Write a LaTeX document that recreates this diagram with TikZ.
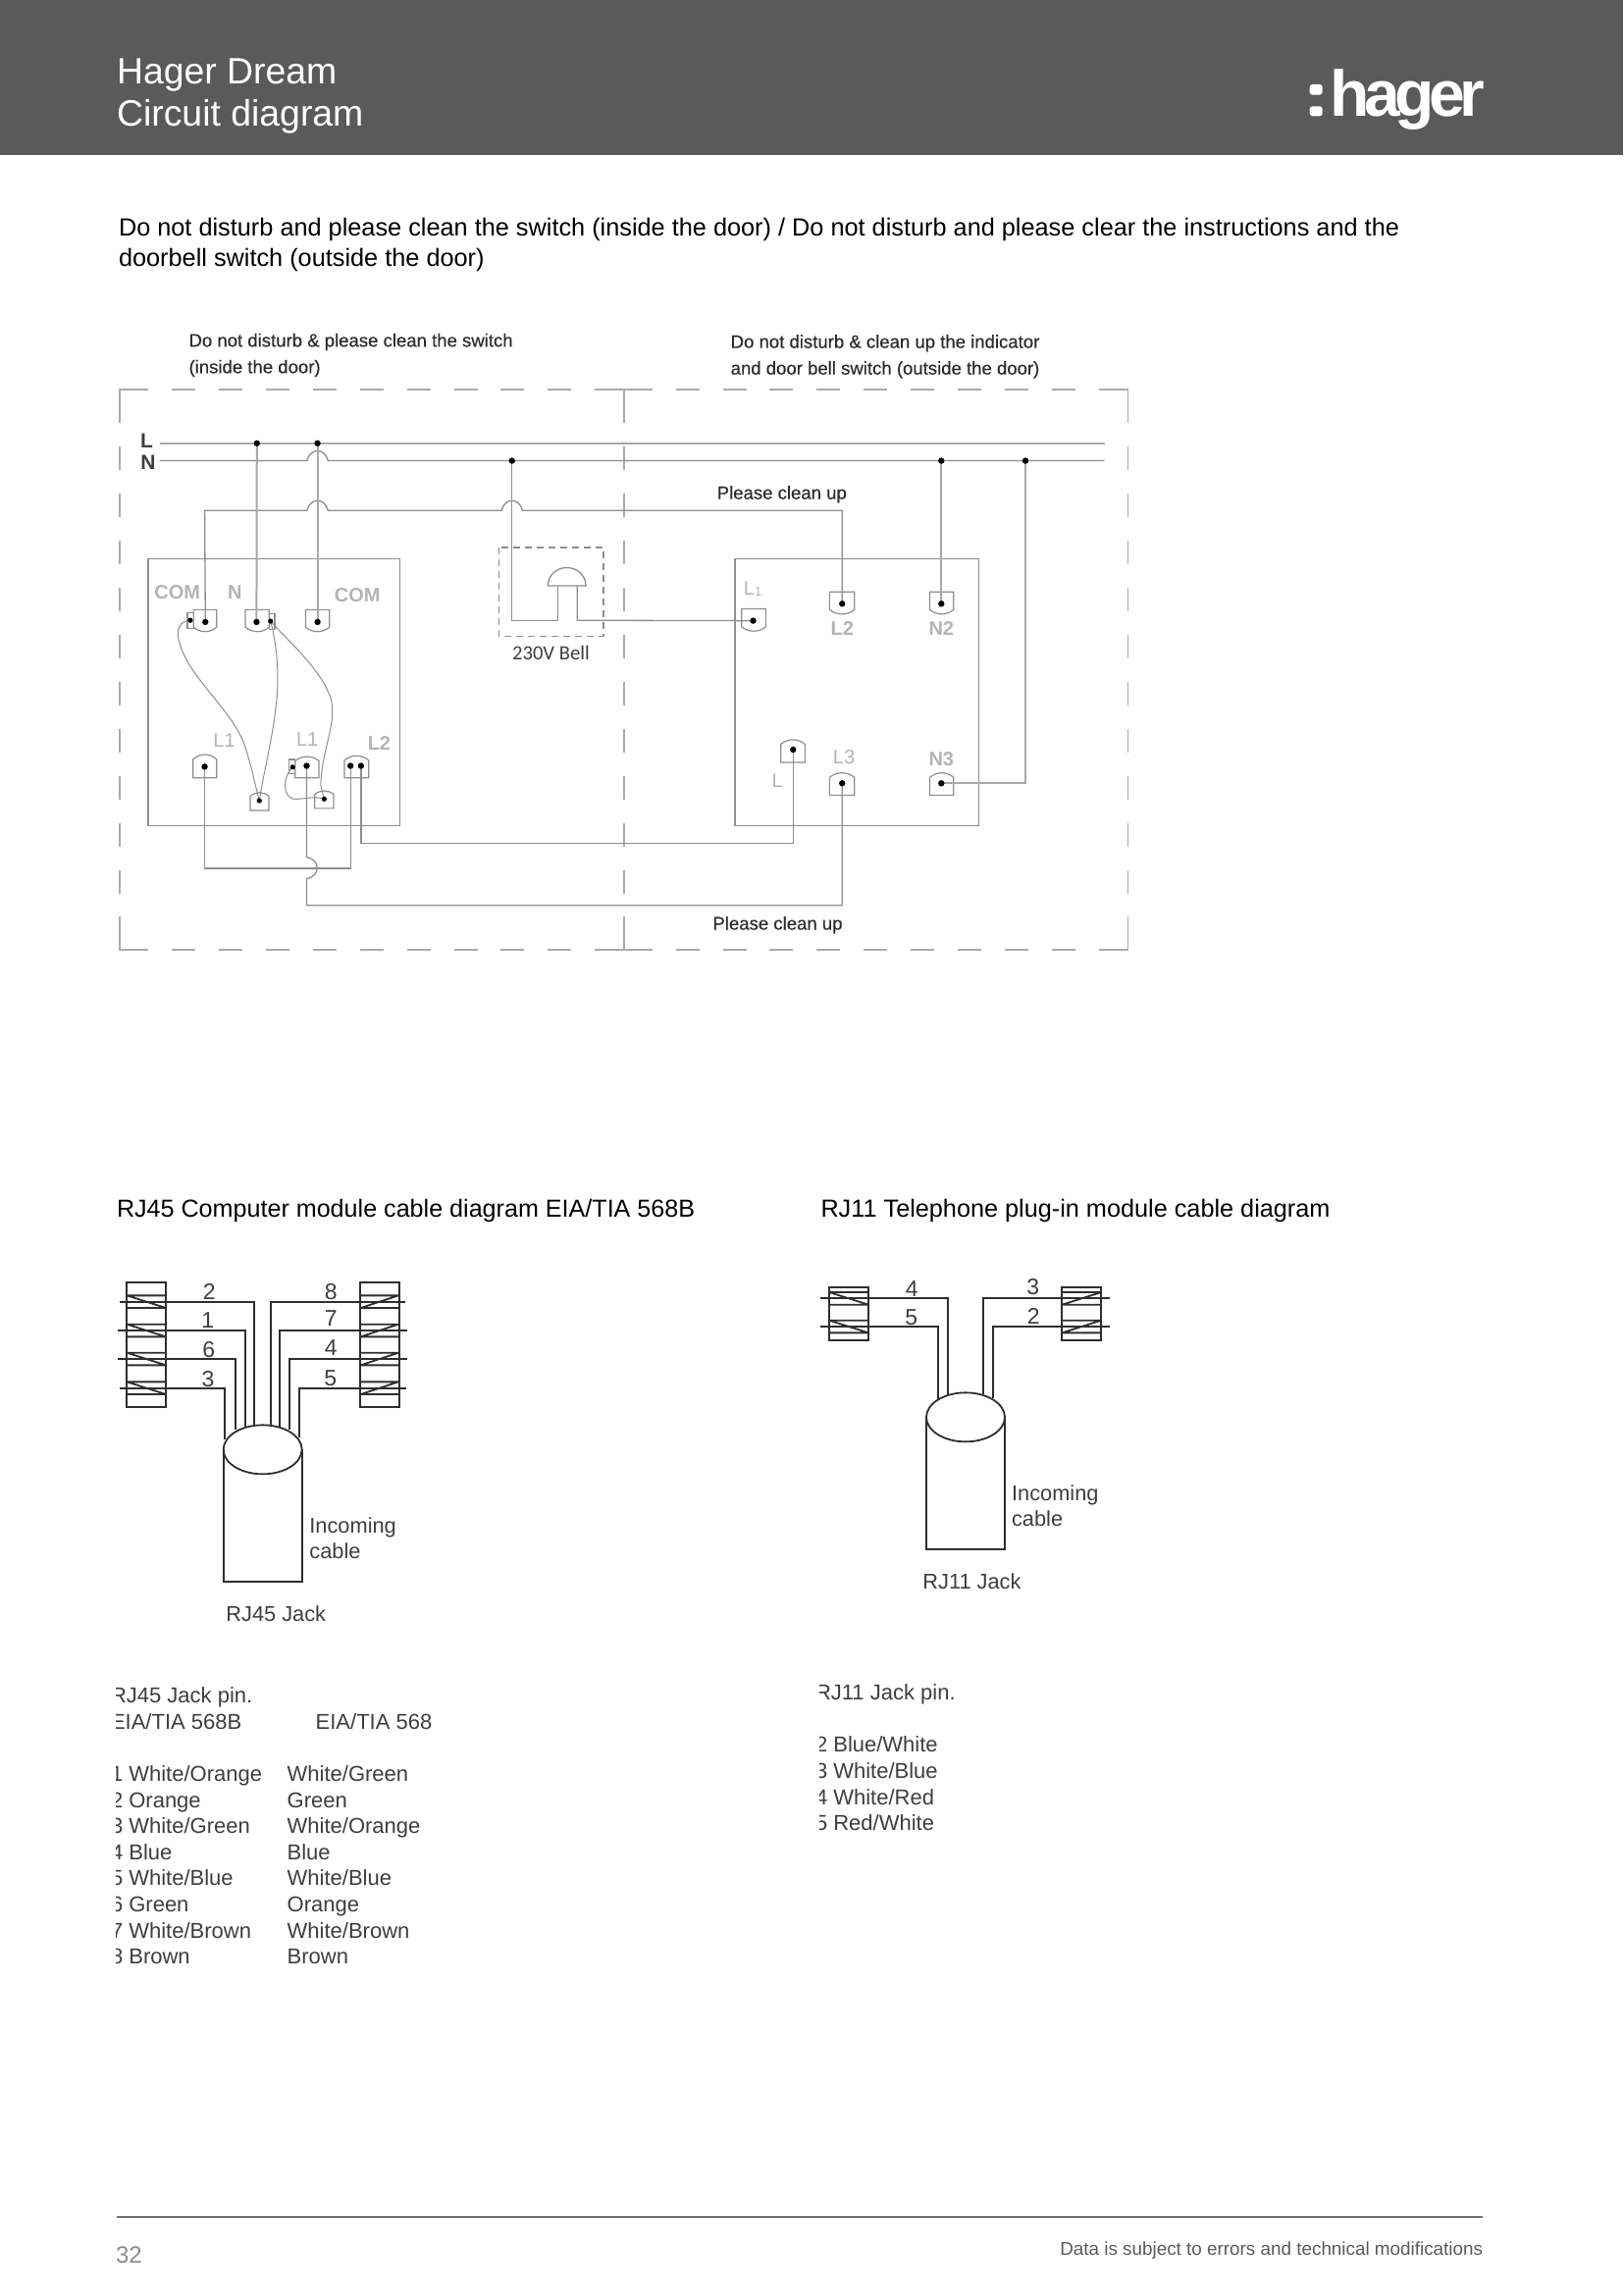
\documentclass[tikz,border=0pt]{standalone}
\usepackage{fontspec}
\setmainfont{Liberation Sans}
\newfontfamily\carl{Carlito}
\newfontfamily\capf[FakeBold=0.35]{Liberation Sans}
\newfontfamily\logof[LetterSpace=-8]{Liberation Sans}
\newcommand{\fsz}[2]{\fontsize{#1pt}{#2pt}\selectfont}
\definecolor{headgray}{HTML}{5A5A5A}
\definecolor{wirea}{HTML}{8E8E8E}
\definecolor{wireb}{HTML}{A8A8A8}
\definecolor{framec}{HTML}{ABABAB}
\definecolor{lblc}{HTML}{B4B4B4}
\definecolor{txtd}{HTML}{3E3E3E}
\definecolor{capc}{HTML}{2C2C2C}
\definecolor{linkc}{HTML}{2E2E2E}
\definecolor{pagec}{HTML}{8C8C8C}
\tikzset{
 zA/.style={shift={(100,310)},x=0.178571pt,y=-0.21682pt},
 zB/.style={shift={(100,1280)},x=0.166667pt,y=-0.166667pt},
 zC/.style={shift={(820,1280)},x=0.166667pt,y=-0.166667pt},
 zD/.style={shift={(100,1700)},x=0.166667pt,y=-0.166667pt},
 txt/.style={inner sep=0pt,outer sep=0pt,anchor=base west,align=left},
 ptxt/.style={txt,font=\fsz{12.65}{15.5},text=black},
 wire/.style={draw=wirea,line width=0.65pt},
 wirev/.style={draw=wireb,line width=1pt},
 jump/.style={draw=wirea,line width=0.5pt},
 termline/.style={draw=wirea,line width=0.6pt},
 frameline/.style={draw=framec,line width=0.8pt},
 fdashh/.style={frameline,dash pattern=on 12pt off 11.96pt},
 fdashv/.style={frameline,dash pattern=on 12pt off 11.96pt},
 jdot/.style={circle,fill=black,inner sep=0pt,minimum size=3.2pt},
 slbl/.style={inner sep=0pt,text=lblc,font=\fsz{10}{12}\bfseries},
 dlbl/.style={inner sep=0pt,text=capc,font=\fsz{9.28}{13.5}\capf},
 ldark/.style={draw=linkc,line width=0.9pt},
 ltxt/.style={inner sep=0pt,text=txtd,font=\fsz{10.9}{13},anchor=base west,align=left},
 lnum/.style={inner sep=0pt,text=txtd,font=\fsz{11.5}{13}},
 ttxt/.style={inner sep=0pt,outer sep=0pt,text=txtd,font=\fsz{11}{13.3},anchor=base west,align=left},
}
\newcommand{\termb}[4]{\draw[termline] (#1,#3)--(#2,#3)--(#2,{#3+0.75*(#4-#3)}) .. controls ({#1+0.7*(#2-#1)},#4) and ({#1+0.3*(#2-#1)},#4) .. (#1,{#3+0.75*(#4-#3)}) -- cycle;}
\newcommand{\termt}[4]{\draw[termline] (#1,#4)--(#2,#4)--(#2,{#4-0.75*(#4-#3)}) .. controls ({#1+0.7*(#2-#1)},#3) and ({#1+0.3*(#2-#1)},#3) .. (#1,{#4-0.75*(#4-#3)}) -- cycle;}
\newcommand{\coilL}[3]{\draw[ldark] (#1,{#3-19})--(#2,{#3-19}) (#1,{#3+19})--(#2,{#3+19}) (#1,{#3-19})--(#2,{#3+19});}
\newcommand{\coilR}[3]{\draw[ldark] (#1,{#3-19})--(#2,{#3-19}) (#1,{#3+19})--(#2,{#3+19}) (#2,{#3-19})--(#1,{#3+19});}
\begin{document}
\begin{tikzpicture}[x=0.5pt,y=-0.5pt]
\useasboundingbox (0,0) rectangle (1654,2339);
\fill[white] (0,0) rectangle (1654,2339);
% header
\fill[headgray] (0,0) rectangle (1654,158);
\node[txt,text=white,font=\fsz{18.7}{21}] (title) at (119,128) {Hager Dream\\Circuit diagram};
\fill[white,rounded corners=1.5pt] (1334.7,86) rectangle (1347.7,96.7);
\fill[white,rounded corners=1.5pt] (1334.7,108.3) rectangle (1347.7,118.3);
\node[txt,text=white,font=\fsz{33}{36}\logof\bfseries] (logo) at (1355,118.3) {hager};
% intro
\node[ptxt] (intro) at (121,271.5) {Do not disturb and please clean the switch (inside the door) / Do not disturb and please clear the instructions and the\\doorbell switch (outside the door)};
% section headings
\node[ptxt,font=\fsz{12.56}{15.5}] (hA) at (119,1240) {RJ45 Computer module cable diagram EIA/TIA 568B};
\node[ptxt,font=\fsz{12.63}{15.5}] (hB) at (836.5,1240) {RJ11 Telephone plug-in module cable diagram};
% footer
\draw[black,line width=0.9pt] (119,2259.5) -- (1511,2259.5);
\node[txt,text=pagec,font=\fsz{12}{14}] (pageno) at (118,2306) {32};
\node[inner sep=0pt,anchor=base east,text=headgray,font=\fsz{9.43}{12}] (disc) at (1511.5,2298) {Data is subject to errors and technical modifications};

%% ---------- wiring diagram
\begin{scope}[zA]
% frame: two adjoining dashed rectangles
\draw[frameline] (62,278)--(62,200)--(143,200);
\draw[fdashh] (210,200)--(1418,200);
\draw[frameline] (1418,200)--(1581,200);
\draw[fdashh] (1648,200)--(2856,200);
\draw[frameline] (2856,200)--(2939,200)--(2939,278);
\draw[frameline] (62,1440)--(62,1518)--(143,1518);
\draw[fdashh] (210,1518)--(1418,1518);
\draw[frameline] (1418,1518)--(1581,1518);
\draw[fdashh] (1648,1518)--(2856,1518);
\draw[frameline] (2856,1518)--(2939,1518)--(2939,1440);
\draw[fdashv] (62,335)--(62,1440);
\draw[fdashv] (2939,335)--(2939,1440);
\draw[frameline] (1500,200)--(1500,278);
\draw[fdashv] (1500,335)--(1500,1440);
\draw[frameline] (1500,1440)--(1500,1518);
% boxes
\draw[termline] (143,598) rectangle (862,1225);
\draw[termline] (1817,598) rectangle (2512,1225);
% bell
\draw[draw=wirea,line width=0.7pt,dash pattern=on 3.5pt off 2.5pt] (1143,572) rectangle (1442,780);
\draw[wire] (1283,662) .. controls (1287,605) and (1388,605) .. (1392,662) -- cycle;
% coordinates
\coordinate (lA) at (175,327); \coordinate (lB) at (2872,327);
\coordinate (nA) at (175,368); \coordinate (nB) at (2872,368);
\coordinate (dL1) at (453,327); \coordinate (dL2) at (626,327);
\coordinate (dN1) at (1181,368); \coordinate (dN2) at (2406,368); \coordinate (dN3) at (2646,368);
\coordinate (tC1) at (306,747); \coordinate (tC1s) at (263,743);
\coordinate (tN) at (452,747); \coordinate (tNs) at (492,745);
\coordinate (tC2) at (626,747);
\coordinate (tA) at (304,1087); \coordinate (tB) at (595,1085); \coordinate (tBs) at (555,1088);
\coordinate (tD1) at (720,1085); \coordinate (tD2) at (750,1085);
\coordinate (tE) at (460,1167); \coordinate (tF) at (645,1163);
\coordinate (rL1) at (1869,744); \coordinate (rL2) at (2123,704); \coordinate (rN2) at (2406,704);
\coordinate (rL) at (1983,1047); \coordinate (rL3) at (2123,1126); \coordinate (rN3) at (2406,1126);
\coordinate (bL) at (1312,662); \coordinate (bR) at (1367,662);
% terminals
\termb{272}{338}{718}{773}
\draw[termline] (255,725) rectangle (272,762);
\termb{420}{488}{718}{773}
\draw[termline] (488,728) rectangle (504,765);
\termb{592}{660}{718}{773}
\termt{271}{338}{1055}{1113}
\termt{562}{630}{1060}{1113}
\draw[termline] (544,1070) rectangle (562,1103);
\termt{703}{772}{1058}{1113}
\termt{434}{487}{1145}{1190}
\termt{618}{672}{1141}{1185}
\termb{1836}{1905}{716}{772}
\termb{2087}{2158}{676}{732}
\termb{2373}{2441}{676}{732}
\termt{1948}{2017}{1020}{1077}
\termt{2087}{2158}{1098}{1154}
\termt{2373}{2441}{1098}{1154}
% main lines
\draw[wirev] (lA) -- (lB);
\draw[wire] (nA) -- (596,368) .. controls (605,337) and (647,337) .. (656,368) -- (nB);
\draw[wire] (tC1) -- (304,485) -- (596,485) .. controls (605,454) and (647,454) .. (656,485) -- (1151,485) .. controls (1160,454) and (1202,454) .. (1211,485) -- (2123,485) -- (rL2);
\draw[wirev] (dL1) -- (tN);
\draw[wirev] (dL2) -- (tC2);
\draw[wire] (dN1) -- (1181,743) -- (1312,743) -- (bL);
\draw[wire] (bR) -- (1367,743) -- (rL1);
\draw[wirev] (dN2) -- (rN2);
\draw[wirev] (dN3) |- (rN3);
\draw[wire] (tA) |- (tD1 |- 0,1326) -- (tD1);
\draw[wire] (tB) -- (595,1300) .. controls (635,1305) and (635,1345) .. (595,1350) -- (595,1413) -- (2123,1413) -- (rL3);
\draw[wire] (tD2) |- (rL |- 0,1267) -- (rL);
% jumpers
\draw[jump] (tC1s) .. controls (215,745) and (215,790) .. (270,860) .. controls (330,930) and (385,970) .. (415,1030) .. controls (435,1075) and (445,1120) .. (tE);
\draw[jump] (tNs) .. controls (510,800) and (520,880) .. (505,960) .. controls (495,1030) and (470,1110) .. (tE);
\draw[jump] (tNs) .. controls (540,790) and (640,860) .. (665,930) .. controls (680,990) and (640,1040) .. (635,1130) -- (tF);
\draw[jump] (tBs) .. controls (525,1110) and (525,1165) .. (565,1163) .. controls (590,1163) and (620,1155) .. (tF);
% dots
\foreach \n in {dL1,dL2,dN1,dN2,dN3,tC1,tN,tC2,tA,tB,tD1,tD2,rL1,rL2,rN2,rL,rL3,rN3}
  \node[jdot] at (\n) {};
\foreach \n in {tC1s,tNs,tBs,tE,tF}
  \node[jdot,minimum size=2.6pt] at (\n) {};
% labels
\node[slbl] (lCOMa) at (226,676) {COM};
\node[slbl] (lNn) at (390,676) {N};
\node[slbl] (lCOMb) at (740,684) {COM};
\node[slbl,font=\fsz{10}{12}] (lLa) at (360,1026) {L1};
\node[slbl,font=\fsz{10}{12}] (lLb) at (597,1024) {L1};
\node[slbl] (lLc) at (802,1031) {L2};
\node[slbl,font=\fsz{10}{12}] (rLa) at (1868,668) {L\raisebox{-0.5pt}{\fsz{6.5}{8}1}};
\node[slbl] (rLb) at (2123,762) {L2};
\node[slbl] (rNb) at (2406,762) {N2};
\node[slbl,font=\fsz{10}{12}] (rLc) at (1938,1120) {L};
\node[slbl,font=\fsz{10}{12}] (rLd) at (2128,1065) {L3};
\node[slbl] (rNc) at (2406,1068) {N3};
\node[inner sep=0pt,text=txtd,font=\fsz{10.5}{12}\bfseries] (lblL) at (139,322) {L};
\node[inner sep=0pt,text=txtd,font=\fsz{10.5}{12}\bfseries] (lblN) at (143,373) {N};
\node[dlbl,anchor=west,align=left] (capA) at (258,120) {Do not disturb \& please clean the switch\\(inside the door)};
\node[dlbl,anchor=west,align=left] (capB) at (1804,123) {Do not disturb \& clean up the indicator\\and door bell switch (outside the door)};
\node[dlbl] (pcA) at (1951,447) {Please clean up};
\node[dlbl] (pcB) at (1939,1459) {Please clean up};
\node[inner sep=0pt,text=txtd,font=\fsz{10.3}{12}\carl] (bell) at (1292,820) {230V Bell};
\end{scope}

%% ---------- RJ45
\begin{scope}[zB]
\draw[ldark] (88,80) rectangle (207,462);
\draw[ldark] (800,80) rectangle (920,462);
\coilL{88}{207}{140} \coilL{88}{207}{228} \coilL{88}{207}{315} \coilL{88}{207}{404}
\coilR{803}{918}{140} \coilR{803}{918}{228} \coilR{803}{918}{315} \coilR{803}{918}{404}
\draw[ldark] (66,140) -- (478,140) -- (478,517);
\draw[ldark] (60,228) -- (449,228) -- (449,522);
\draw[ldark] (60,315) -- (420,315) -- (420,532);
\draw[ldark] (65,404) -- (388,404) -- (388,560);
\draw[ldark] (940,140) -- (527,140) -- (527,517);
\draw[ldark] (945,228) -- (556,228) -- (556,522);
\draw[ldark] (945,315) -- (585,315) -- (585,530);
\draw[ldark] (942,404) -- (615,404) -- (615,555);
\draw[ldark] (383,592) -- (383,995) -- (623,995) -- (623,592);
\draw[ldark] (503,592) ellipse [x radius=120,y radius=75];
\node[lnum] (nA2) at (340,110) {2};
\node[lnum] (nA1) at (335,198) {1};
\node[lnum] (nA6) at (338,288) {6};
\node[lnum] (nA3) at (336,378) {3};
\node[lnum] (nA8) at (712,110) {8};
\node[lnum] (nA7) at (712,190) {7};
\node[lnum] (nA4) at (712,282) {4};
\node[lnum] (nA5) at (710,375) {5};
\node[ltxt] (incA) at (645,926) {Incoming\\cable};
\node[ltxt] (jackA) at (390,1118) {RJ45 Jack};
\end{scope}

%% ---------- RJ11
\begin{scope}[zC]
\draw[ldark] (75,95) rectangle (195,258);
\draw[ldark] (787,95) rectangle (907,258);
\coilL{75}{195}{130} \coilL{75}{195}{216}
\coilR{787}{907}{130} \coilR{787}{907}{216}
\draw[ldark] (48,130) -- (437,130) -- (437,425);
\draw[ldark] (48,216) -- (407,216) -- (407,437);
\draw[ldark] (933,130) -- (545,130) -- (545,422);
\draw[ldark] (933,216) -- (575,216) -- (575,435);
\draw[ldark] (372,493) -- (372,898) -- (612,898) -- (612,493);
\draw[ldark] (492,493) ellipse [x radius=120,y radius=75];
\node[lnum] (nB4) at (328,100) {4};
\node[lnum] (nB5) at (326,188) {5};
\node[lnum] (nB3) at (698,95) {3};
\node[lnum] (nB2) at (700,185) {2};
\node[ltxt] (incB) at (632,827) {Incoming\\cable};
\node[ltxt] (jackB) at (360,1018) {RJ11 Jack};
\end{scope}

%% ---------- tables
\begin{scope}[zD]
\begin{scope}
\clip (55,0) rectangle (560,960);
\node[ttxt] (tabA) at (39,905) {RJ45 Jack pin.\\EIA/TIA 568B\\[13.3pt]1 White/Orange\\2 Orange\\3 White/Green\\4 Blue\\5 White/Blue\\6 Green\\7 White/Brown\\8 Brown};
\end{scope}
\node[ttxt] (tabB) at (665,188) {EIA/TIA 568};
\node[ttxt] (tabC) at (578,905) {White/Green\\Green\\White/Orange\\Blue\\White/Blue\\Orange\\White/Brown\\Brown};
\end{scope}
\begin{scope}
\clip (835,1700) rectangle (1100,1900);
\node[ttxt] (tabD) at (831,1865.7) {RJ11 Jack pin.\\[13.3pt]2 Blue/White\\3 White/Blue\\4 White/Red\\5 Red/White};
\end{scope}
\end{tikzpicture}
\end{document}
